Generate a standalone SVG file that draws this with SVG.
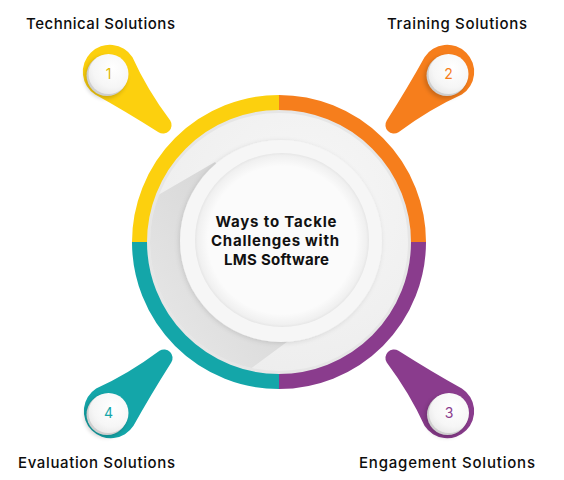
<svg xmlns="http://www.w3.org/2000/svg" width="564" height="480" viewBox="0 0 564 480">
<defs>
<style>
.lbl{font-family:"Inter","Open Sans","Liberation Sans",sans-serif;font-size:15px;font-weight:500;fill:#0d0d0d}
.title{font-family:"Inter","Open Sans","Liberation Sans",sans-serif;font-size:15px;font-weight:700;fill:#111}
.num{font-family:"Inter","Open Sans","Liberation Sans",sans-serif;font-size:14px;text-anchor:middle}
.ring{fill:none;stroke-width:15}
</style>
<path id="pinShape" d="M5.4,-26.4 Q38,-14 76.9,-8.3 A8.5 8.5 0 0 1 76.9,8.3 Q38,17 5.4,26.4 A27 27 0 1 1 5.4,-26.4 Z"/>
<radialGradient id="btnFace" cx="0.6" cy="0.35" r="0.7">
<stop offset="0" stop-color="#ffffff"/>
<stop offset="0.7" stop-color="#f6f6f6"/>
<stop offset="1" stop-color="#e9e9e9"/>
</radialGradient>
<radialGradient id="bigDisc" cx="0.6" cy="0.35" r="0.7">
<stop offset="0" stop-color="#f7f7f7"/>
<stop offset="1" stop-color="#ededed"/>
</radialGradient>
<radialGradient id="innerDisc" cx="0.5" cy="0.5" r="0.5">
<stop offset="0.85" stop-color="#fbfbfb"/>
<stop offset="0.97" stop-color="#f0f0f0"/>
<stop offset="1" stop-color="#e6e6e6"/>
</radialGradient>
<linearGradient id="shadowGrad" gradientUnits="userSpaceOnUse" x1="270" y1="235" x2="120" y2="335">
<stop offset="0" stop-color="#d6d6d6"/>
<stop offset="1" stop-color="#eaeaea"/>
</linearGradient>
<clipPath id="discClip"><circle cx="279" cy="242" r="129"/></clipPath>
<filter id="soft" x="-30%" y="-30%" width="160%" height="160%"><feGaussianBlur stdDeviation="2"/></filter>
<filter id="plateShadow" x="-20%" y="-20%" width="140%" height="140%"><feDropShadow dx="-1" dy="1" stdDeviation="2.5" flood-color="#000" flood-opacity="0.12"/></filter>
</defs>

<g id="center-disc">
<circle cx="279" cy="242" r="133" fill="#e6e6e6"/>
<circle cx="279" cy="242" r="129" fill="url(#bigDisc)"/>
<polygon clip-path="url(#discClip)" points="215,162 332.8,308.1 115.7,468.5 -8.3,291.7" fill="url(#shadowGrad)"/>
<circle cx="281" cy="241" r="101" fill="#f6f6f6" filter="url(#plateShadow)"/>
<circle cx="282" cy="240" r="87" fill="url(#innerDisc)"/>
</g>

<g id="ring">
<path class="ring" stroke="#FCD00E" d="M139.5,242 A139.5 139.5 0 0 1 279,102.5"/>
<path class="ring" stroke="#F67E1C" d="M279,102.5 A139.5 139.5 0 0 1 418.5,242"/>
<path class="ring" stroke="#8A3C8D" d="M418.5,242 A139.5 139.5 0 0 1 279,381.5"/>
<path class="ring" stroke="#14A6A9" d="M279,381.5 A139.5 139.5 0 0 1 139.5,242"/>
</g>

<g id="center-title">
<text class="title" x="276" y="227" text-anchor="middle" textLength="121">Ways to Tackle</text>
<text class="title" x="275" y="246" text-anchor="middle" textLength="128">Challenges with</text>
<text class="title" x="276.5" y="264.5" text-anchor="middle" textLength="105">LMS Software</text>
</g>

<g id="pin-1">
<use href="#pinShape" transform="translate(110,72) rotate(45)" fill="#FCD00E"/>
<circle cx="105.5" cy="77.5" r="21" fill="#000" opacity="0.18" filter="url(#soft)"/>
<circle cx="107" cy="75.5" r="20.5" fill="#cfcfcf"/>
<circle cx="108.5" cy="74" r="20" fill="url(#btnFace)"/>
<text class="num" x="108.5" y="79" fill="#E0B800">1</text>
<text class="lbl" x="26" y="28.5" textLength="149">Technical Solutions</text>
</g>

<g id="pin-2">
<use href="#pinShape" transform="translate(447,72) rotate(135)" fill="#F67E1C"/>
<circle cx="445.5" cy="77.5" r="21" fill="#000" opacity="0.18" filter="url(#soft)"/>
<circle cx="447" cy="75.5" r="20.5" fill="#cfcfcf"/>
<circle cx="448.5" cy="74" r="20" fill="url(#btnFace)"/>
<text class="num" x="448.5" y="79" fill="#F67E1C">2</text>
<text class="lbl" x="387" y="28.5" textLength="140">Training Solutions</text>
</g>

<g id="pin-3">
<use href="#pinShape" transform="translate(447,411) rotate(225)" fill="#8A3C8D"/>
<circle cx="446" cy="416.5" r="21" fill="#000" opacity="0.18" filter="url(#soft)"/>
<circle cx="447.5" cy="414.5" r="20.5" fill="#cfcfcf"/>
<circle cx="449" cy="413" r="20" fill="url(#btnFace)"/>
<text class="num" x="449" y="418" fill="#8A3C8D">3</text>
<text class="lbl" x="359" y="468" textLength="176">Engagement Solutions</text>
</g>

<g id="pin-4">
<use href="#pinShape" transform="translate(111,411) rotate(-45)" fill="#14A6A9"/>
<circle cx="105.5" cy="416.5" r="21" fill="#000" opacity="0.18" filter="url(#soft)"/>
<circle cx="107" cy="414.5" r="20.5" fill="#cfcfcf"/>
<circle cx="108.5" cy="413" r="20" fill="url(#btnFace)"/>
<text class="num" x="108.5" y="418" fill="#14A6A9">4</text>
<text class="lbl" x="18" y="468" textLength="157">Evaluation Solutions</text>
</g>

<g id="connectors"></g>
</svg>
